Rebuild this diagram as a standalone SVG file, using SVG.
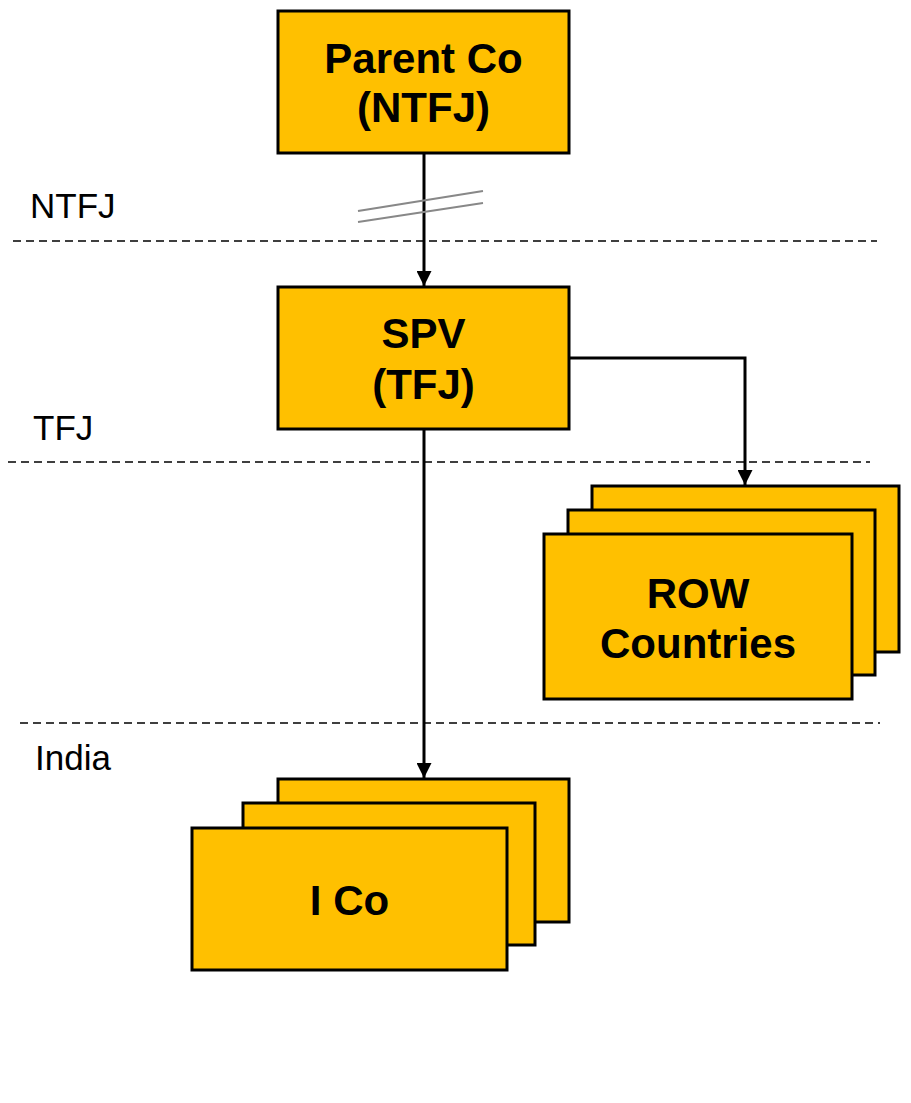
<svg xmlns="http://www.w3.org/2000/svg" width="911" height="1103" viewBox="0 0 911 1103">
  <style>
    .box { fill: #FFC000; stroke: #000; stroke-width: 3; }
    .title { font-family: "Liberation Sans", Arial, sans-serif; font-weight: bold; font-size: 42px; fill: #000; text-anchor: middle; }
    .zone { font-family: "Liberation Sans", Arial, sans-serif; font-size: 35px; fill: #000; }
    .divider { stroke: #000; stroke-width: 1.5; stroke-dasharray: 8 5; fill: none; }
    .link { stroke: #000; stroke-width: 3; fill: none; }
    .cut { stroke: #888; stroke-width: 2; fill: none; }
  </style>
  <defs>
    <marker id="arrow" markerWidth="5" markerHeight="5" refX="5" refY="2.5" orient="auto" markerUnits="strokeWidth">
      <path d="M0,0 L5,2.5 L0,5 Z" fill="#000"/>
    </marker>
  </defs>

  <rect width="911" height="1103" fill="#fff"/>

  <!-- jurisdiction dividers and labels -->
  <g id="zones">
    <line class="divider" x1="13" y1="241" x2="877" y2="241"/>
    <line class="divider" x1="8" y1="462" x2="870" y2="462"/>
    <line class="divider" x1="20" y1="723" x2="880" y2="723"/>
    <text class="zone" x="30" y="218">NTFJ</text>
    <text class="zone" x="33" y="440">TFJ</text>
    <text class="zone" x="35" y="770">India</text>
  </g>

  <!-- connectors -->
  <g id="connectors">
    <line class="link" x1="424" y1="153" x2="424" y2="286" marker-end="url(#arrow)"/>
    <line class="cut" x1="358" y1="211" x2="483" y2="191"/>
    <line class="cut" x1="358" y1="222" x2="483" y2="203"/>
    <polyline class="link" points="569,358 745,358 745,485" marker-end="url(#arrow)"/>
    <line class="link" x1="424" y1="429" x2="424" y2="778" marker-end="url(#arrow)"/>
  </g>

  <g id="parent-co">
    <rect class="box" x="278" y="11" width="291" height="142"/>
    <text class="title" x="423.5" y="73">Parent Co</text>
    <text class="title" x="423.5" y="122">(NTFJ)</text>
  </g>

  <g id="spv">
    <rect class="box" x="278" y="287" width="291" height="142"/>
    <text class="title" x="423.5" y="348">SPV</text>
    <text class="title" x="423.5" y="399">(TFJ)</text>
  </g>

  <g id="row-countries">
    <rect class="box" x="592" y="486" width="307" height="166"/>
    <rect class="box" x="568" y="510" width="307" height="165"/>
    <rect class="box" x="544" y="534" width="308" height="165"/>
    <text class="title" x="698" y="608">ROW</text>
    <text class="title" x="698" y="658">Countries</text>
  </g>

  <g id="i-co">
    <rect class="box" x="278" y="779" width="291" height="143"/>
    <rect class="box" x="243" y="803" width="292" height="142"/>
    <rect class="box" x="192" y="828" width="315" height="142"/>
    <text class="title" x="349.5" y="915">I Co</text>
  </g>
</svg>
